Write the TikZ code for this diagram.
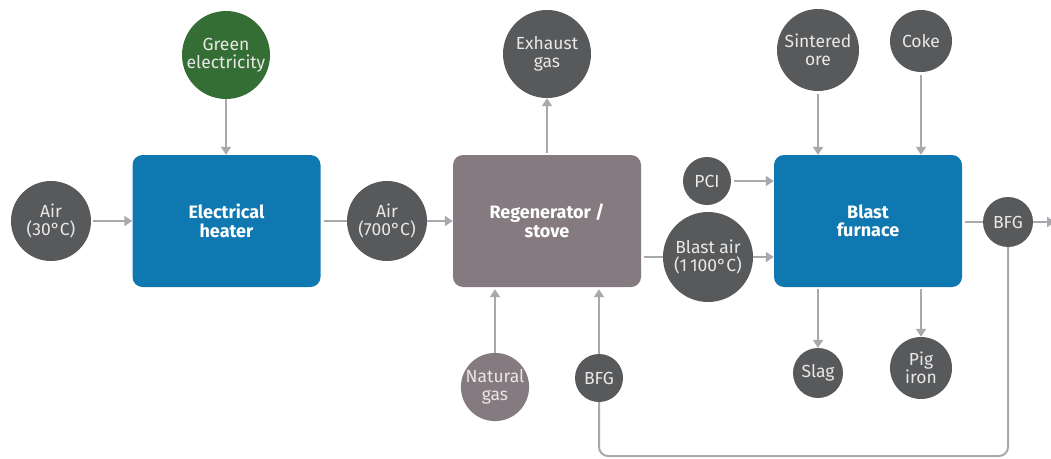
\documentclass[tikz,border=0pt]{standalone}
\usepackage{fontspec}
\setmainfont{Fira Sans}
\usetikzlibrary{arrows.meta,calc}
\definecolor{boxblue}{HTML}{1078B0}
\definecolor{stovegrey}{HTML}{857A7F}
\definecolor{dotgrey}{HTML}{58595B}
\definecolor{leafgreen}{HTML}{356E35}
\definecolor{linegrey}{HTML}{A7A9AC}
\definecolor{dottext}{HTML}{E8E8E8}
\tikzset{
  unit/.style={rounded corners=10pt, minimum width=188pt, minimum height=132pt,
    inner sep=0pt, text=white, align=center,
    font=\fontsize{18}{18.5}\selectfont\bfseries},
  flow/.style={circle, fill=dotgrey, inner sep=0pt, text=dottext, align=center,
    font=\fontsize{17.5}{18}\selectfont},
  feed/.style={draw=linegrey, line width=2pt,
    -{Triangle[length=8pt,width=10pt]}},
  link/.style={draw=linegrey, line width=2pt},
}
\begin{document}
\begin{tikzpicture}[x=1pt,y=-1pt]
\useasboundingbox (0,0) rectangle (1051,458);

% process units
\node[unit, fill=boxblue]    (heater)  at (226.5,221) {Electrical\\heater};
\node[unit, fill=stovegrey]  (stove)   at (547,221)   {Regenerator /\\stove};
\node[unit, fill=boxblue]    (furnace) at (868,221)   {Blast\\furnace};

% material and energy streams
\node[flow, fill=leafgreen, minimum size=88pt] (green) at (226,55)  {Green\\electricity};
\node[flow, minimum size=80pt] (aircold)  at (51,221)   {Air\\(30°C)};
\node[flow, minimum size=80pt] (airhot)   at (387,221)  {Air\\(700°C)};
\node[flow, minimum size=88pt] (exhaust)  at (547,54)   {Exhaust\\gas};
\node[flow, minimum size=48pt] (pci)      at (707,181)  {PCI};
\node[flow, minimum size=90pt] (blast)    at (708,257)  {Blast air\\(1\,100°C)};
\node[flow, fill=stovegrey, minimum size=68pt] (natgas) at (495,387) {Natural\\gas};
\node[flow, minimum size=48pt] (bfgback)  at (599,378)  {BFG};
\node[flow, minimum size=82pt] (sinter)   at (818,50)   {Sintered\\ore};
\node[flow, minimum size=62pt] (coke)     at (921,41)   {Coke};
\node[flow, minimum size=50pt] (bfgout)   at (1008,222) {BFG};
\node[flow, minimum size=50pt] (slag)     at (818,373)  {Slag};
\node[flow, minimum size=62pt] (pigiron)  at (921,368)  {Pig\\iron};

\coordinate (gasexit) at (1055,222);
\coordinate (loopright) at (1008,456);
\coordinate (loopleft)  at (599,456);

% connectors
\draw[feed] (green) -- (green |- heater.north);
\draw[feed, shorten <=2pt] (aircold) -- (heater);
\draw[link, shorten <=3pt] (heater) -- (airhot);
\draw[feed] (airhot) -- (stove);
\draw[feed, shorten <=2pt] (stove.north) -- (exhaust);
\draw[feed, shorten >=2pt] (natgas) -- (natgas |- stove.south);
\draw[feed, shorten >=2pt] (bfgback) -- (bfgback |- stove.south);
\draw[link, shorten <=3pt] (stove.east |- blast) -- (blast);
\draw[feed] (blast) -- (blast -| furnace.west);
\draw[feed, shorten <=3pt] (pci) -- (pci -| furnace.west);
\draw[feed, shorten <=3pt] (sinter) -- (sinter |- furnace.north);
\draw[feed, shorten <=3pt] (coke) -- (coke |- furnace.north);
\draw[feed, shorten <=2pt] (slag |- furnace.south) -- (slag);
\draw[feed, shorten <=2pt] (pigiron |- furnace.south) -- (pigiron);
\draw[link, shorten <=3pt] (furnace.east |- bfgout) -- (bfgout);
\draw[feed] (bfgout) -- (gasexit);
\draw[link, rounded corners=9pt] (bfgout) -- (loopright) -- (loopleft) -- (bfgback);
\end{tikzpicture}
\end{document}
